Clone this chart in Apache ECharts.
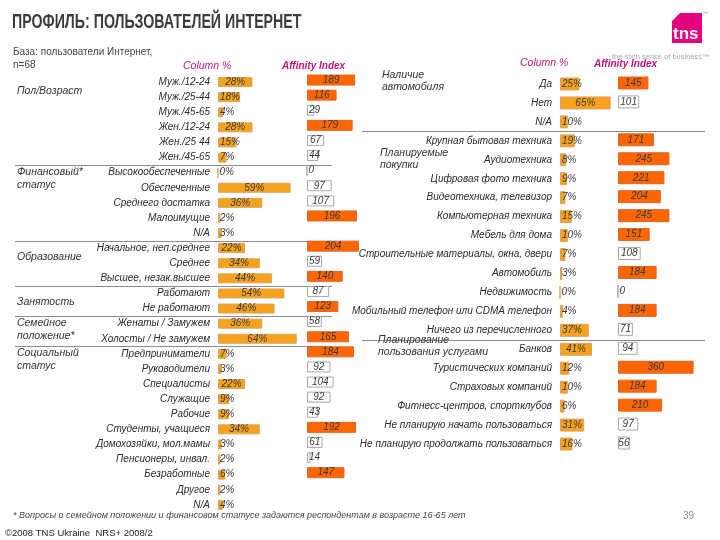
<!DOCTYPE html>
<html><head><meta charset="utf-8">
<script src="https://cdn.jsdelivr.net/npm/echarts@6/dist/echarts.min.js"></script>
<style>html,body{margin:0;padding:0;background:#fff}#c{width:720px;height:540px}</style>
</head><body><div id="c"></div>
<script>
// ---- data ----
const leftCats = ['Муж./12-24','Муж./25-44','Муж./45-65','Жен./12-24','Жен./25 44','Жен./45-65',
  'Высокообеспеченные','Обеспеченные','Среднего достатка','Малоимущие','N/A',
  'Начальное, неп.среднее','Среднее','Высшее, незак.высшее',
  'Работают','Не работают',
  'Женаты / Замужем','Холосты / Не замужем',
  'Предприниматели','Руководители','Специалисты','Служащие','Рабочие','Студенты, учащиеся',
  'Домохозяйки, мол.мамы','Пенсионеры, инвал.','Безработные','Другое','N/A\u200b'];
const leftCol = [28,18,4,28,15,7, 0,59,36,2,3, 22,34,44, 54,46, 36,64, 7,3,22,9,9,34,3,2,6,2,4];
const leftAff = [189,116,29,179,67,44, 0,97,107,196,null, 204,59,140, 87,123, 58,165, 184,92,104,92,43,192,61,14,147,null,null];

const rightCats = ['Да','Нет','N/A','Крупная бытовая техника','Аудиотехника','Цифровая фото техника',
  'Видеотехника, телевизор','Компьютерная техника','Мебель для дома','Строительные материалы, окна, двери',
  'Автомобиль','Недвижимость','Мобильный телефон или CDMA телефон','Ничего из перечисленного',
  'Банков','Туристических компаний','Страховых компаний','Фитнесс-центров, спортклубов',
  'Не планирую начать пользоваться','Не планирую продолжать пользоваться'];
const rightCol = [25,65,10,19,8,9,7,15,10,7,3,0,4,37,41,12,10,6,31,16];
const rightAff = [145,101,null,171,245,221,204,245,151,108,184,0,184,71,94,360,184,210,97,56];

const leftGroups = [['Пол/Возраст',0,0],['Финансовый*\nстатус',6,1],['Образование',11,0],['Занятость',14,0],['Семейное\nположение*',16,1],['Социальный\nстатус',18,1]];
const leftSeps = [6,11,14,16,18];
const rightSeps = [3,14];

// ---- styling ----
const FONT = 'Liberation Sans, Arial, sans-serif';
const COL = '#F7A21C', COLB = '#D9A463';
const AFF = '#FF6600', AFFB = '#E0662A';
const HL = 110;

function colData(vals, thr){
  return vals.map(v => ({value:v, label:{position: v>=thr ? 'inside' : 'insideLeft', distance: 2}}));
}
function affData(vals){
  return vals.map(v => {
    if (v == null) return {value:null};
    const hi = v > HL;
    return {value:v,
      itemStyle: hi ? {color:AFF, borderColor:AFFB, borderWidth:1} : {color:'#fff', borderColor:'#A8A8A8', borderWidth:1},
      label:{position: v>=50 ? 'inside' : 'insideLeft', distance: 2}};
  });
}
const labelBase = {show:true, fontSize:10, fontStyle:'italic', fontFamily:FONT, color:'#3a3a3a'};

const chart = echarts.init(document.getElementById('c'));
const LT = 74.5, LH = 29*15.1, RT = 74.5, RH = 20*18.95;
chart.setOption({
  animation:false,
  grid:[
    {left:218, top:LT, width:123, height:LH},
    {left:307, top:LT-2, width:102, height:LH},
    {left:560, top:RT, width:78, height:RH},
    {left:618, top:RT-1, width:84, height:RH}
  ],
  xAxis:[
    {type:'value', gridIndex:0, min:0, max:100, show:false},
    {type:'value', gridIndex:1, min:0, max:400, show:false},
    {type:'value', gridIndex:2, min:0, max:100, show:false},
    {type:'value', gridIndex:3, min:0, max:400, show:false}
  ],
  yAxis:[
    {type:'category', gridIndex:0, data:leftCats, inverse:true, axisLine:{show:false}, axisTick:{show:false},
     axisLabel:{margin:8, fontSize:10, fontStyle:'italic', fontFamily:FONT, color:'#2a2a2a', interval:0}},
    {type:'category', gridIndex:1, data:leftCats, inverse:true, show:false},
    {type:'category', gridIndex:2, data:rightCats, inverse:true, axisLine:{show:false}, axisTick:{show:false},
     axisLabel:{margin:8, fontSize:10, fontStyle:'italic', fontFamily:FONT, color:'#2a2a2a', interval:0}},
    {type:'category', gridIndex:3, data:rightCats, inverse:true, show:false}
  ],
  series:[
    {type:'bar', xAxisIndex:0, yAxisIndex:0, barWidth:10, data:colData(leftCol,20),
     itemStyle:{color:COL, borderColor:COLB, borderWidth:1},
     label:Object.assign({}, labelBase, {formatter:p=>p.value+'%'})},
    {type:'bar', xAxisIndex:1, yAxisIndex:1, barWidth:11, data:affData(leftAff),
     label:Object.assign({}, labelBase, {formatter:p=>p.value})},
    {type:'bar', xAxisIndex:2, yAxisIndex:2, barWidth:13, data:colData(rightCol,38),
     itemStyle:{color:COL, borderColor:COLB, borderWidth:1},
     label:Object.assign({}, labelBase, {formatter:p=>p.value+'%'})},
    {type:'bar', xAxisIndex:3, yAxisIndex:3, barWidth:13, data:affData(rightAff),
     label:Object.assign({}, labelBase, {formatter:p=>p.value})}
  ]
});

// ---- decorations ----
const g = [];
function txt(x,y,t,s){ g.push({type:'text', x:x, y:y, silent:true, style:Object.assign({text:t, fontFamily:FONT, fontSize:10, fill:'#333', verticalAlign:'middle'}, s||{})}); }
function lineAt(x1,x2,y){ g.push({type:'line', silent:true, shape:{x1:x1,y1:y,x2:x2,y2:y}, style:{stroke:'#8c8c8c', lineWidth:1}}); }
function rowY(axis, i){ return chart.convertToPixel({yAxisIndex:axis}, i); }

leftSeps.forEach(i => { const y = Math.round((rowY(0,i-1)+rowY(0,i))/2)+0.5; lineAt(15,332,y); });
rightSeps.forEach(i => { const y = Math.round((rowY(2,i-1)+rowY(2,i))/2)+0.5; lineAt(362,705,y); });

leftGroups.forEach(([t,i,two]) => { txt(17, rowY(0,i) + (two?6:9) , t, {fontStyle:'italic', fontSize:10.5, lineHeight:13}); });
txt(382, 81, 'Наличие\nавтомобиля', {fontStyle:'italic', fontSize:10.5, lineHeight:12});
txt(380, 159, 'Планируемые\nпокупки', {fontStyle:'italic', fontSize:10.5, lineHeight:12});
txt(378, 346, 'Планирование\nпользования услугами', {fontStyle:'italic', fontSize:10.5, lineHeight:12});

// title
g.push({type:'text', x:12, y:22, scaleX:0.71, silent:true, style:{text:'ПРОФИЛЬ: ПОЛЬЗОВАТЕЛЕЙ ИНТЕРНЕТ', fontFamily:FONT, fontSize:20, fontWeight:'bold', fill:'#3c3c3c', verticalAlign:'middle'}});
txt(13, 59, 'База: пользователи Интернет,\nn=68', {fontSize:10, fill:'#444', lineHeight:13});
const MAG = '#C0177F';
txt(183, 66, 'Column %', {fontStyle:'italic', fontSize:10.5, fill:MAG});
txt(282, 66, 'Affinity Index', {fontStyle:'italic', fontWeight:'bold', fontSize:10, fill:MAG});
txt(520, 63, 'Column %', {fontStyle:'italic', fontSize:10.5, fill:MAG});
txt(594, 64, 'Affinity Index', {fontStyle:'italic', fontWeight:'bold', fontSize:10, fill:MAG});

// logo
g.push({type:'polygon', silent:true, shape:{points:[[680,13],[702,13],[702,43],[672,43],[672,21]]}, style:{fill:'#E5007E'}});
txt(673, 34, 'tns', {fontSize:17, fontWeight:'bold', fill:'#fff'});
txt(703, 14, '™', {fontSize:5, fill:'#999'});
txt(612, 57, 'the sixth sense of business™', {fontSize:7.5, fill:'#aaa'});

// footer
txt(13, 515, '* Вопросы о семейном положении и финансовом статусе задаются респондентам в возрасте 16-65 лет', {fontStyle:'italic', fontSize:9, fill:'#444'});
txt(5, 533, '©2008 TNS Ukraine  NRS+ 2008/2', {fontSize:9.5, fill:'#222'});
txt(683, 516, '39', {fontSize:10, fill:'#888'});

chart.setOption({graphic:g});
</script></body></html>
